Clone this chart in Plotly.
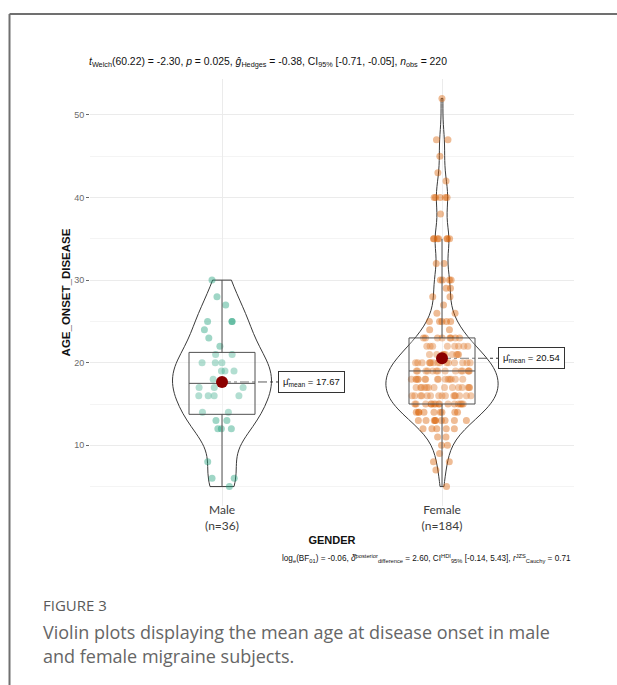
import numpy as np
import plotly.graph_objects as go

# ---------------- data ----------------
categories = ["Male", "Female"]

male_ages = [30, 28, 27, 25, 25, 25, 24, 23, 22, 21, 21, 20, 20, 20, 19, 19, 19, 18,
             17, 17, 17, 16, 16, 16, 16, 14, 14, 13, 13, 12, 12, 12, 8, 6, 6, 5]

female_ages = [52,
               47, 47,
               45,
               43,
               42,
               40, 40, 40, 40, 40,
               38,
               35, 35, 35, 35, 35, 35, 35,
               32, 32,
               30, 30, 30, 30,
               29, 29,
               28, 28,
               27,
               26, 26,
               25, 25, 25, 25, 25,
               24, 24,
               23, 23, 23, 23, 23, 23, 23, 23,
               22, 22, 22, 22, 22, 22, 22, 22,
               21, 21, 21, 21, 21, 21, 21, 21, 21,
               20, 20, 20, 20, 20, 20, 20, 20, 20, 20, 20, 20, 20, 20, 20,
               19, 19, 19, 19, 19, 19, 19, 19, 19, 19, 19, 19, 19, 19,
               18, 18, 18, 18, 18, 18, 18, 18, 18, 18, 18, 18, 18, 18, 18,
               17, 17, 17, 17, 17, 17, 17, 17, 17, 17, 17, 17, 17, 17,
               16, 16, 16, 16, 16, 16, 16, 16, 16, 16, 16, 16, 16, 16, 16,
               15, 15, 15, 15, 15, 15, 15, 15, 15, 15, 15, 15, 15, 15, 15,
               14, 14, 14, 14, 14, 14, 14, 14, 14,
               13, 13, 13, 13, 13, 13, 13, 13, 13,
               12, 12, 12, 12, 12,
               11, 11,
               10, 10,
               9,
               8, 8,
               7,
               5]

group_values = [male_ages, female_ages]
group_colors = ["#1B9E77", "#D95F02"]
y_ticks = [10, 20, 30, 40, 50]
y_minor_ticks = [5, 15, 25, 35, 45]

subtitle_text = ("<i>t</i><sub>Welch</sub>(60.22) = -2.30, <i>p</i> = 0.025, "
                 "<i>g\u0302</i><sub>Hedges</sub> = -0.38, CI<sub>95%</sub> [-0.71, -0.05], "
                 "<i>n</i><sub>obs</sub> = 220")
bayes_text = ("log<sub>e</sub>(BF<sub>01</sub>) = -0.06, "
              "<i>\u03b4\u0302</i><sup>posterior</sup><sub>difference</sub> = 2.60, "
              "CI<sup>HDI</sup><sub>95%</sub> [-0.14, 5.43], "
              "<i>r</i><sup>JZS</sup><sub>Cauchy</sub> = 0.71")
figure_label = "FIGURE 3"
caption_lines = ["Violin plots displaying the mean age at disease onset in male",
                 "and female migraine subjects."]

# ---------------- figure ----------------
fig = go.Figure()
violin_widths = [0.45, 0.51]


def nrd0(v):
    v = np.asarray(v, float)
    q1, q3 = np.percentile(v, [25, 75])
    lo = min(np.std(v, ddof=1), (q3 - q1) / 1.34)
    return 0.9 * lo * len(v) ** (-0.2)


for cat, vals, col, vw in zip(categories, group_values, group_colors, violin_widths):
    arr = np.asarray(vals, float)
    # violin outline
    fig.add_trace(go.Violin(
        x=[cat] * len(vals), y=vals, width=vw, scalemode="width", scalegroup=cat,
        spanmode="hard", bandwidth=nrd0(vals), points=False,
        line=dict(color="#3a3a3a", width=1), fillcolor="rgba(255,255,255,0.2)",
        box_visible=False, meanline_visible=False, hoverinfo="skip",
    ))
    # jittered points
    fig.add_trace(go.Box(
        x=[cat] * len(vals), y=vals, boxpoints="all", jitter=1.0, pointpos=0,
        width=0.28, line=dict(width=0, color="rgba(0,0,0,0)"),
        fillcolor="rgba(0,0,0,0)",
        marker=dict(color=col, opacity=0.42, size=7, line=dict(width=0)),
        hoverinfo="y",
    ))
    # box plot (ggplot style whiskers)
    q1, med, q3 = np.percentile(arr, [25, 50, 75])
    iqr = q3 - q1
    lf = arr[arr >= q1 - 1.5 * iqr].min()
    uf = arr[arr <= q3 + 1.5 * iqr].max()
    fig.add_trace(go.Box(
        x=[cat], q1=[q1], median=[med], q3=[q3], lowerfence=[lf], upperfence=[uf],
        width=0.3, whiskerwidth=0, boxpoints=False,
        line=dict(color="#505050", width=1), fillcolor="rgba(255,255,255,0.2)",
        hoverinfo="skip",
    ))

means = [float(np.mean(v)) for v in group_values]

# mean label connector lines and labels
for i, m in enumerate(means):
    fig.add_shape(type="line", xref="x", yref="y", x0=i, x1=i + 0.255, y0=m, y1=m,
                  line=dict(color="#333333", width=1, dash="dashdot"), layer="between")
    fig.add_annotation(
        xref="x", yref="y", x=i + 0.255, y=m, xanchor="left", yanchor="middle",
        text=f"\u03bc\u0302<sub>mean</sub> = {m:.2f}", showarrow=False,
        font=dict(size=9.5, color="#111111", family="Arial, Liberation Sans, sans-serif"),
        bordercolor="#333333", borderwidth=1, borderpad=4, bgcolor="white",
    )

fig.add_trace(go.Scatter(
    x=categories, y=means, mode="markers",
    marker=dict(size=12, color="#8B0000"), hoverinfo="y",
))

# texts
fig.add_annotation(xref="paper", yref="paper", x=-0.006, y=1.0398, xanchor="left",
                   yanchor="middle", text=subtitle_text, showarrow=False,
                   font=dict(size=10.4, color="#111111"))
fig.add_annotation(xref="paper", yref="paper", x=0.998, y=-0.1218, xanchor="right",
                   yanchor="middle", text=bayes_text, showarrow=False,
                   font=dict(size=8.2, color="#111111"))
fig.add_annotation(xref="paper", yref="paper", x=-0.1012, y=-0.2319, xanchor="left",
                   yanchor="middle", text=figure_label, showarrow=False,
                   font=dict(size=15, color="#5a5a5a", family="Open Sans, sans-serif"))
for txt, yy in zip(caption_lines, [-0.2951, -0.3513]):
    fig.add_annotation(xref="paper", yref="paper", x=-0.1012, y=yy, xanchor="left",
                       yanchor="middle", text=txt, showarrow=False,
                       font=dict(size=18, color="#666666", family="Open Sans, sans-serif"))

# outer frame (top and left)
fig.add_shape(type="line", xref="paper", yref="paper", x0=-0.1663, x1=1.2,
              y0=1.1522, y1=1.1522, line=dict(color="#707070", width=2))
fig.add_shape(type="line", xref="paper", yref="paper", x0=-0.1663, x1=-0.1663,
              y0=1.1522, y1=-0.6, line=dict(color="#707070", width=2))

fig.update_layout(
    width=617, height=685,
    margin=dict(l=90, r=43, t=79, b=179),
    plot_bgcolor="white", paper_bgcolor="white",
    showlegend=False, boxmode="overlay", violinmode="overlay",
    font=dict(family="Arial, Liberation Sans, sans-serif", color="#111111"),
)
fig.update_xaxes(
    type="category", categoryorder="array", categoryarray=categories,
    range=[-0.6, 1.6], tickmode="array", tickvals=categories,
    ticktext=[f"{c}<br>(n={len(v)})" for c, v in zip(categories, group_values)],
    tickfont=dict(family="Lato, sans-serif", size=12, color="#3c3c3c"),
    ticklabelstandoff=-5,
    showgrid=True, gridcolor="#ebebeb", gridwidth=1, ticks="", zeroline=False,
    showline=False,
    title=dict(text="<b>GENDER</b>", font=dict(size=11, color="#111111"), standoff=4),
)
fig.update_yaxes(
    range=[2.65, 54.35], tickmode="array", tickvals=y_ticks,
    ticks="outside", ticklen=3, tickcolor="#666666", tickwidth=1,
    tickfont=dict(size=9, color="#6b6b6b"),
    showgrid=True, gridcolor="#ebebeb", gridwidth=1, zeroline=False, showline=False,
    minor=dict(tickmode="array", tickvals=y_minor_ticks, showgrid=True,
               gridcolor="#f4f4f4", gridwidth=1, ticks=""),
    title=dict(text="<b>AGE_ONSET_DISEASE</b>", font=dict(size=11.5, color="#111111"),
               standoff=1),
)

fig.write_html("out.html", config={"displayModeBar": False},
               post_script="document.body.style.margin='0';")
